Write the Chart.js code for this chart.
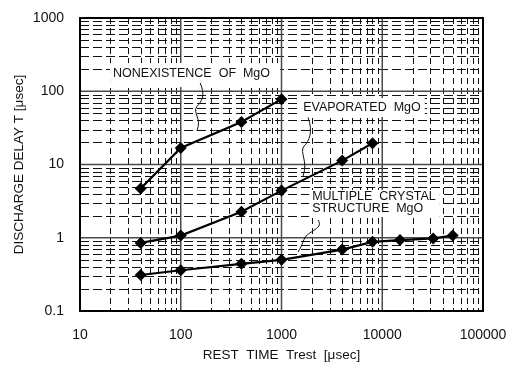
<!DOCTYPE html>
<html><head><meta charset="utf-8">
<script src="https://cdn.jsdelivr.net/npm/chart.js@4"></script>
<style>html,body{margin:0;padding:0;background:#fff}canvas{display:block}</style>
</head><body>
<canvas id="c" width="515" height="374"></canvas>
<script>
// ---- data ----
const nonexistenceX = [40, 100, 400, 1000];
const nonexistenceY = [4.7, 16.8, 38, 78];
const evaporatedX = [40, 100, 400, 1000, 4000, 8000];
const evaporatedY = [0.85, 1.07, 2.27, 4.4, 11.3, 19.5];
const crystalX = [40, 100, 400, 1000, 4000, 8000, 15000, 32000, 50000];
const crystalY = [0.31, 0.36, 0.44, 0.5, 0.69, 0.88, 0.93, 0.98, 1.07];
const xTickValues = [10, 100, 1000, 10000, 100000];
const xTickLabels = ['10', '100', '1000', '10000', '100000'];
const yTickValues = [0.1, 1, 10, 100, 1000];
const yTickLabels = ['0.1', '1', '10', '100', '1000'];
const seriesNames = ['NONEXISTENCE OF MgO', 'EVAPORATED MgO', 'MULTIPLE CRYSTAL STRUCTURE MgO'];
const labelLines = [['NONEXISTENCE  OF  MgO'], ['EVAPORATED  MgO'], ['MULTIPLE  CRYSTAL', 'STRUCTURE  MgO']];
const xTitle = 'REST  TIME  Trest  [\u03bcsec]';
const yTitle = 'DISCHARGE DELAY T [\u03bcsec]';

const toPts = (xs, ys) => xs.map((v, i) => ({x: v, y: ys[i]}));

// annotation placement (in data coordinates) and box paddings (px)
const annotations = [
  {lines: labelLines[0], at: {x: 21.3, y: 177}, box: [3, 10, 10, 14],
   leader: [{x: 156, y: 130}, {x: 145, y: 29}]},
  {lines: labelLines[1], at: {x: 1640, y: 59}, box: [5, 4, 10, 9],
   leader: [{x: 1837, y: 44}, {x: 1640, y: 7.0}]},
  {lines: labelLines[2], at: {x: 2014, y: 3.6}, box: [3, 4, 7, 8],
   leader: [{x: 2310, y: 1.75}, {x: 1462, y: 0.64}]}
];

const FONT = '"Liberation Sans", Arial, Helvetica, sans-serif';

function minorValues(min, max) {
  const out = [];
  for (let d = Math.floor(Math.log10(min)); d <= Math.ceil(Math.log10(max)); d++) {
    for (let m = 2; m <= 9; m++) {
      const v = m * Math.pow(10, d);
      if (v > min && v < max) out.push(v);
    }
  }
  return out;
}

const paperPlugin = {
  id: 'paper',
  beforeDatasetsDraw(chart) {
    const {ctx, chartArea: a, scales: {x, y}} = chart;
    ctx.save();
    ctx.beginPath(); ctx.rect(a.left, a.top, a.right - a.left, a.bottom - a.top); ctx.clip();
    const line = (x0, y0, x1, y1) => { ctx.beginPath(); ctx.moveTo(x0, y0); ctx.lineTo(x1, y1); ctx.stroke(); };
    // minor dashed lines
    ctx.strokeStyle = '#111'; ctx.lineWidth = 1;
    ctx.setLineDash([9, 4]);
    for (const v of minorValues(y.min, y.max)) {
      const p = Math.round(y.getPixelForValue(v)) + 0.5; line(a.left, p, a.right, p);
    }
    ctx.setLineDash([6, 4]);
    for (const v of minorValues(x.min, x.max)) {
      const p = Math.round(x.getPixelForValue(v)) + 0.5; line(p, a.top, p, a.bottom);
    }
    // major solid lines
    ctx.setLineDash([]);
    ctx.strokeStyle = '#4a4a4a'; ctx.lineWidth = 1.5;
    for (const v of yTickValues) { const p = y.getPixelForValue(v); line(a.left, p, a.right, p); }
    for (const v of xTickValues) { const p = x.getPixelForValue(v); line(p, a.top, p, a.bottom); }
    // label boxes, texts, leaders
    ctx.font = '12.5px ' + FONT;
    ctx.textBaseline = 'middle'; ctx.textAlign = 'left';
    const lh = 12;
    for (const an of annotations) {
      const tx = x.getPixelForValue(an.at.x), ty = y.getPixelForValue(an.at.y);
      const w = Math.max(...an.lines.map(s => ctx.measureText(s).width));
      const [l, r, t, b] = an.box;
      ctx.fillStyle = '#fff';
      ctx.fillRect(tx - l, ty - t, w + l + r, (an.lines.length - 1) * lh + t + b);
      ctx.fillStyle = '#111';
      an.lines.forEach((s, i) => ctx.fillText(s, tx, ty + i * lh));
      const x0 = x.getPixelForValue(an.leader[0].x), y0 = y.getPixelForValue(an.leader[0].y);
      const x1 = x.getPixelForValue(an.leader[1].x), y1 = y.getPixelForValue(an.leader[1].y);
      const my = (y0 + y1) / 2, mx = (x0 + x1) / 2;
      ctx.strokeStyle = '#111'; ctx.lineWidth = 1;
      ctx.beginPath();
      ctx.moveTo(x0, y0);
      ctx.bezierCurveTo(x0 + 5, y0 + (my - y0) * 0.5, mx + 4, my - 6, mx - 2, my);
      ctx.bezierCurveTo(mx - 6, my + 6, x1 + 5, y1 - (y1 - my) * 0.5, x1, y1);
      ctx.stroke();
    }
    ctx.restore();
  },
  afterDatasetsDraw(chart) {
    const {ctx, chartArea: a} = chart;
    ctx.save();
    ctx.strokeStyle = '#000'; ctx.lineWidth = 2;
    ctx.strokeRect(a.left, a.top, a.right - a.left, a.bottom - a.top);
    ctx.restore();
  }
};

const ds = (label, xs, ys) => ({
  label, data: toPts(xs, ys), showLine: true, tension: 0,
  borderColor: '#000', borderWidth: 2.2, backgroundColor: '#000',
  pointStyle: 'rectRot', pointRadius: 6, pointBorderWidth: 0
});

new Chart(document.getElementById('c'), {
  type: 'scatter',
  data: {datasets: [
    ds(seriesNames[0], nonexistenceX, nonexistenceY),
    ds(seriesNames[1], evaporatedX, evaporatedY),
    ds(seriesNames[2], crystalX, crystalY)
  ]},
  options: {
    responsive: false, animation: false, devicePixelRatio: 1,
    layout: {padding: {top: 18, right: 32, left: 0, bottom: 0}},
    plugins: {legend: {display: false}, tooltip: {enabled: false}},
    scales: {
      x: {
        type: 'logarithmic', position: 'bottom', min: 10, max: 100000,
        grid: {display: false}, border: {display: false},
        afterBuildTicks: s => { s.ticks = xTickValues.map(v => ({value: v})); },
        afterFit: s => { s.height = 63; },
        ticks: {autoSkip: false, maxRotation: 0, padding: 8, color: '#111',
          font: {family: FONT, size: 14},
          callback: (v) => { const i = xTickValues.indexOf(v); return i >= 0 ? xTickLabels[i] : ''; }},
        title: {display: true, text: xTitle, color: '#111', font: {family: FONT, size: 13.5},
          padding: {top: 0, bottom: 11}}
      },
      y: {
        type: 'logarithmic', position: 'left', min: 0.1, max: 1000,
        grid: {display: false}, border: {display: false},
        afterBuildTicks: s => { s.ticks = yTickValues.map(v => ({value: v})); },
        afterFit: s => { s.width = 80; },
        ticks: {autoSkip: false, padding: 8, color: '#111',
          font: {family: FONT, size: 14},
          callback: (v) => { const i = yTickValues.findIndex(t => Math.abs(t - v) / t < 1e-6); return i >= 0 ? yTickLabels[i] : ''; }},
        title: {display: true, text: yTitle, color: '#111', font: {family: FONT, size: 13.5},
          padding: {top: 11, bottom: 0}}
      }
    }
  },
  plugins: [paperPlugin]
});
</script>
</body></html>
